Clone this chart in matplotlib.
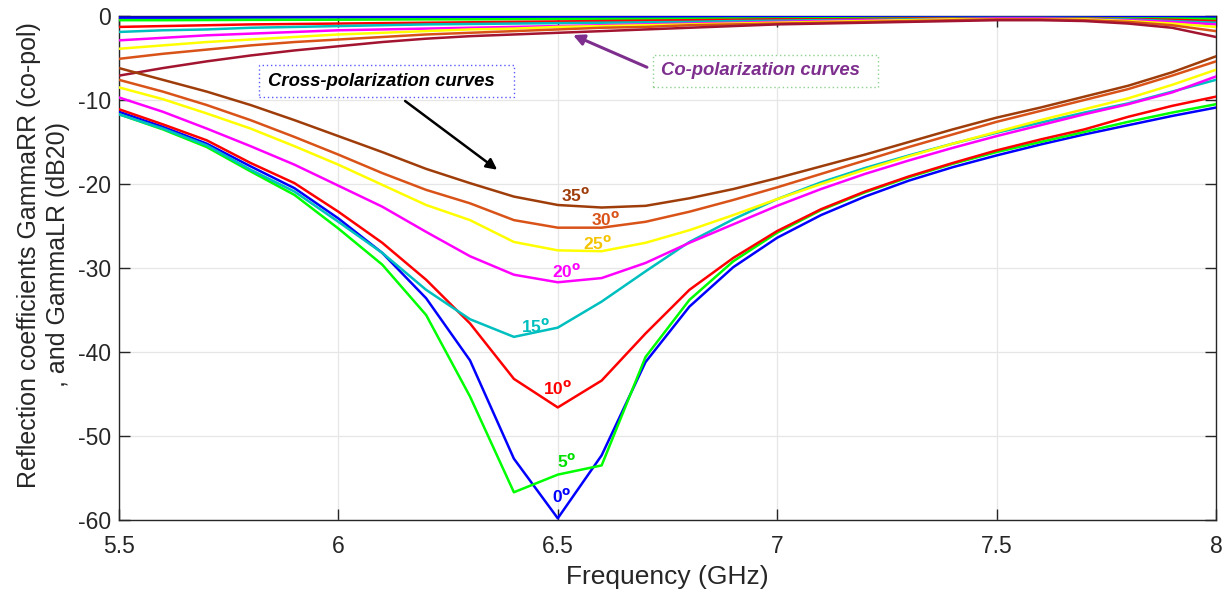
import matplotlib
matplotlib.use("Agg")
import matplotlib.pyplot as plt
from matplotlib.patches import Rectangle

plt.rcParams['font.family'] = ['Liberation Sans', 'DejaVu Sans']

freq = [5.5, 5.6, 5.7, 5.8, 5.9, 6.0, 6.1, 6.2, 6.3, 6.4, 6.5, 6.6, 6.7,
        6.8, 6.9, 7.0, 7.1, 7.2, 7.3, 7.4, 7.5, 7.6, 7.7, 7.8, 7.9, 8.0]

angles = [0, 5, 10, 15, 20, 25, 30, 35]

# Cross-polarization (GammaLR, dB)
cross_0 = [-11.4, -13.2, -15.2, -17.9, -20.5, -24.1, -28.2, -33.6, -41.0, -52.7, -59.8, -52.3, -41.2,
           -34.6, -29.9, -26.4, -23.7, -21.5, -19.6, -18.0, -16.6, -15.3, -14.1, -13.0, -11.9, -10.9]
cross_5 = [-11.7, -13.5, -15.6, -18.5, -21.3, -25.3, -29.6, -35.6, -45.3, -56.7, -54.6, -53.5, -40.6,
           -33.8, -29.2, -25.8, -23.1, -21.0, -19.2, -17.6, -16.2, -15.0, -13.8, -12.6, -11.5, -10.5]
cross_10 = [-11.1, -12.9, -14.8, -17.5, -19.9, -23.3, -27.0, -31.4, -36.6, -43.2, -46.6, -43.4, -37.8,
            -32.6, -28.8, -25.6, -23.0, -20.9, -19.1, -17.5, -16.0, -14.7, -13.5, -12.0, -10.7, -9.6]
cross_15 = [-11.7, -13.4, -15.4, -18.3, -20.9, -24.5, -28.2, -32.6, -36.1, -38.2, -37.1, -34.0, -30.4,
            -26.9, -24.2, -21.8, -19.8, -18.1, -16.6, -15.2, -13.9, -12.7, -11.5, -10.4, -9.0, -7.6]
cross_20 = [-9.7, -11.4, -13.4, -15.5, -17.7, -20.2, -22.7, -25.7, -28.6, -30.8, -31.7, -31.2, -29.4,
            -27.0, -24.8, -22.6, -20.6, -18.8, -17.2, -15.7, -14.3, -13.0, -11.7, -10.5, -9.1, -7.2]
cross_25 = [-8.5, -9.9, -11.6, -13.4, -15.5, -17.7, -20.1, -22.5, -24.3, -26.9, -27.9, -28.0, -27.0,
            -25.5, -23.7, -21.8, -20.0, -18.3, -16.7, -15.2, -13.8, -12.4, -11.1, -9.8, -8.2, -6.4]
cross_30 = [-7.6, -9.0, -10.6, -12.4, -14.4, -16.5, -18.7, -20.7, -22.3, -24.3, -25.2, -25.2, -24.5,
            -23.3, -21.9, -20.4, -18.8, -17.2, -15.6, -14.1, -12.6, -11.3, -10.0, -8.7, -7.1, -5.4]
cross_35 = [-6.2, -7.6, -9.0, -10.6, -12.4, -14.3, -16.2, -18.2, -19.9, -21.5, -22.5, -22.8, -22.6,
            -21.7, -20.6, -19.3, -17.9, -16.5, -15.0, -13.5, -12.1, -10.9, -9.6, -8.3, -6.7, -4.8]

# Co-polarization (GammaRR, dB)
co_0 = [-0.2, -0.2, -0.2, -0.19, -0.18, -0.17, -0.16, -0.15, -0.15, -0.14, -0.14, -0.13, -0.13,
        -0.12, -0.12, -0.11, -0.11, -0.1, -0.1, -0.1, -0.1, -0.1, -0.11, -0.12, -0.14, -0.18]
co_5 = [-0.5, -0.5, -0.48, -0.46, -0.45, -0.44, -0.42, -0.4, -0.4, -0.38, -0.36, -0.35, -0.34,
        -0.32, -0.3, -0.3, -0.28, -0.26, -0.25, -0.25, -0.24, -0.24, -0.25, -0.28, -0.3, -0.35]
co_10 = [-1.3, -1.2, -1.1, -1.0, -0.95, -0.9, -0.85, -0.8, -0.75, -0.7, -0.65, -0.6, -0.55,
         -0.5, -0.45, -0.4, -0.4, -0.35, -0.3, -0.3, -0.25, -0.25, -0.3, -0.35, -0.45, -0.6]
co_15 = [-1.9, -1.7, -1.6, -1.4, -1.3, -1.2, -1.1, -1.0, -0.95, -0.9, -0.85, -0.8, -0.75,
         -0.7, -0.6, -0.55, -0.5, -0.45, -0.4, -0.35, -0.3, -0.3, -0.35, -0.4, -0.6, -0.8]
co_20 = [-2.9, -2.6, -2.3, -2.1, -1.9, -1.7, -1.6, -1.5, -1.4, -1.3, -1.2, -1.1, -1.0,
         -0.9, -0.8, -0.7, -0.6, -0.5, -0.5, -0.4, -0.3, -0.3, -0.4, -0.5, -0.7, -1.0]
co_25 = [-3.9, -3.5, -3.1, -2.8, -2.5, -2.2, -2.0, -1.8, -1.6, -1.5, -1.3, -1.2, -1.1,
         -1.0, -0.9, -0.8, -0.7, -0.6, -0.5, -0.4, -0.4, -0.4, -0.4, -0.6, -0.9, -1.3]
co_30 = [-5.1, -4.5, -4.0, -3.5, -3.1, -2.8, -2.5, -2.2, -2.0, -1.8, -1.6, -1.4, -1.3,
         -1.1, -1.0, -0.9, -0.8, -0.7, -0.6, -0.5, -0.4, -0.4, -0.5, -0.7, -1.1, -1.8]
co_35 = [-7.1, -6.2, -5.4, -4.7, -4.1, -3.6, -3.1, -2.7, -2.4, -2.2, -2.0, -1.8, -1.6,
         -1.4, -1.2, -1.0, -0.9, -0.8, -0.7, -0.6, -0.5, -0.5, -0.6, -0.9, -1.4, -2.5]

angle_labels = ['0$^{\\mathbf{o}}$', '5$^{\\mathbf{o}}$', '10$^{\\mathbf{o}}$', '15$^{\\mathbf{o}}$',
                '20$^{\\mathbf{o}}$', '25$^{\\mathbf{o}}$', '30$^{\\mathbf{o}}$', '35$^{\\mathbf{o}}$']
label_x = [6.51, 6.52, 6.50, 6.45, 6.52, 6.59, 6.61, 6.54]
label_y = [-57.2, -53.0, -44.3, -36.9, -30.4, -27.0, -24.2, -21.3]

cross_all = [cross_0, cross_5, cross_10, cross_15, cross_20, cross_25, cross_30, cross_35]
co_all = [co_0, co_5, co_10, co_15, co_20, co_25, co_30, co_35]

cross_colors = ['#0000FF', '#00FF00', '#FF0000', '#00BFBF', '#FF00FF', '#FFFF00', '#D95319', '#9E3D0A']
co_colors = ['#0000FF', '#00FF00', '#FF0000', '#00BFBF', '#FF00FF', '#FFFF00', '#D95319', '#A2142F']
label_colors = ['#0000FF', '#00E000', '#FF0000', '#00BFBF', '#FF00FF', '#F5C400', '#D95319', '#9E3D0A']

fig = plt.figure(figsize=(12.29, 5.97), dpi=100)
ax = fig.add_axes([0.0968, 0.129, 0.8926, 0.8442])

for ys, c in zip(co_all, co_colors):
    ax.plot(freq, ys, color=c, lw=1.8, zorder=3)
for ys, c in zip(cross_all, cross_colors):
    ax.plot(freq, ys, color=c, lw=1.8, zorder=3)

for t, lx, ly, c in zip(angle_labels, label_x, label_y, label_colors):
    ax.text(lx, ly, t, color=c, fontsize=12.5, fontweight='bold', ha='center', va='center', zorder=5)

ax.set_xlim(5.5, 8.0)
ax.set_ylim(-60, 0)
ax.set_xticks([5.5, 6, 6.5, 7, 7.5, 8])
ax.set_xticklabels(['5.5', '6', '6.5', '7', '7.5', '8'])
ax.set_yticks([-60, -50, -40, -30, -20, -10, 0])
ax.set_yticklabels(['-60', '-50', '-40', '-30', '-20', '-10', '0'])
ax.grid(True, color='#E6E6E6', lw=0.9, zorder=0)
ax.set_axisbelow(True)
ax.tick_params(direction='in', length=8, width=1.0, colors='#262626', labelsize=16.5,
               top=True, right=True, labelcolor='#262626')
ax.tick_params(axis='x', pad=11)
ax.tick_params(axis='y', pad=6)
for s in ax.spines.values():
    s.set_color('#262626')
    s.set_linewidth(1.0)

ax.set_xlabel('Frequency (GHz)', fontsize=19, color='#262626', labelpad=5)
ax.set_ylabel('Reflection coefficients GammaRR (co-pol)\n, and GammaLR (dB20)', fontsize=18,
              color='#262626', linespacing=1.25)
ax.yaxis.set_label_coords(-0.0447, 0.526)

# Annotations
fig.patches.append(Rectangle((0.2107, 0.8375), 0.2075, 0.0536, transform=fig.transFigure,
                             fill=True, fc='white', ec='#5A5AFF', ls=(0, (1, 2)), lw=1.0, zorder=6))
fig.text(0.2180, 0.8643, 'Cross-polarization curves', fontsize=13.3, fontweight='bold',
         fontstyle='italic', color='black', ha='left', va='center', zorder=7)
fig.patches.append(Rectangle((0.5313, 0.8543), 0.1831, 0.0536, transform=fig.transFigure,
                             fill=True, fc='white', ec='#90D090', ls=(0, (1, 2)), lw=1.0, zorder=6))
fig.text(0.5375, 0.8811, 'Co-polarization curves', fontsize=13.3, fontweight='bold',
         fontstyle='italic', color='#7E2F8E', ha='left', va='center', zorder=7)

ax.annotate('', xy=(6.367, -18.5), xytext=(6.147, -9.92),
            arrowprops=dict(arrowstyle='-|>', color='black', lw=1.8, mutation_scale=16), zorder=6)
ax.annotate('', xy=(6.529, -2.14), xytext=(6.709, -6.23),
            arrowprops=dict(arrowstyle='-|>', color='#7E2F8E', lw=2.2, mutation_scale=16), zorder=6)

fig.savefig('out.png', dpi=100)
